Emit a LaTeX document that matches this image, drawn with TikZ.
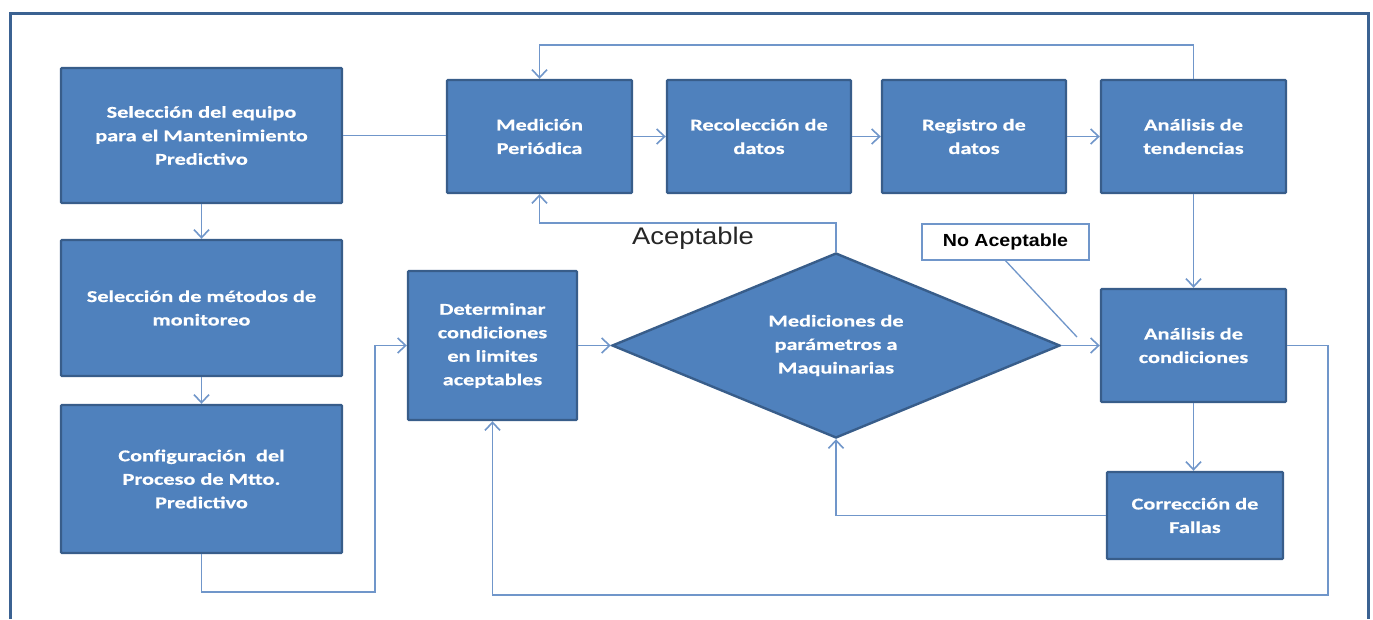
\documentclass[tikz,border=0pt]{standalone}
\usepackage{fontspec}
\usetikzlibrary{arrows.meta,shapes.geometric}
\newfontfamily\boxfont[FakeStretch=1.35,FakeBold=0.6]{Carlito}
\newfontfamily\arialfont[FakeStretch=1.14]{Liberation Sans}
\newfontfamily\arialbfont[FakeStretch=1.12]{Liberation Sans}
\definecolor{boxfill}{HTML}{4F81BD}
\definecolor{boxborder}{HTML}{385D8A}
\definecolor{conn}{HTML}{7096CA}
\definecolor{frame}{HTML}{3B6292}
\begin{document}
\begin{tikzpicture}[x=1pt,y=-1pt,
  box/.style={rectangle, draw=boxborder, fill=boxfill, line width=2.4pt, rounded corners=1pt,
    text=white, align=center, inner sep=0pt,
    font=\boxfont\bfseries\fontsize{16.5}{23.5}\selectfont},
  dia/.style={diamond, draw=boxborder, fill=boxfill, line width=2.4pt, aspect=2.4,
    text=white, align=center, inner sep=0pt,
    font=\boxfont\bfseries\fontsize{16.5}{23.5}\selectfont},
  conline/.style={draw=conn, line width=1.8pt},
  arr/.style={conline, -{Straight Barb[length=8pt,width=15pt,line width=1.6pt]}},
  labelbox/.style={rectangle, draw=conn, fill=white, line width=1.3pt, inner sep=0pt,
    font=\arialbfont\bfseries\fontsize{17.5}{20}\selectfont, text=black}
]
\useasboundingbox (0,0) rectangle (1373,619);
\fill[white] (0,0) rectangle (1373,619);
% outer frame
\draw[frame, line width=3pt] (10,619) -- (10,13) -- (1368,13) -- (1368,619);

% nodes
\node[box, minimum width=281pt, minimum height=135pt] (b1) at (201.5,135.5)
  {Selección del equipo\\para el Mantenimiento\\Predictivo};
\node[box, minimum width=281pt, minimum height=136pt] (b2) at (201.5,308)
  {Selección de métodos de\\monitoreo};
\node[box, minimum width=281pt, minimum height=148pt] (b3) at (201.5,479)
  {Configuración \ del\\Proceso de Mtto.\\Predictivo};
\node[box, minimum width=185pt, minimum height=113pt] (med) at (539.5,136.5)
  {Medición\\Periódica};
\node[box, minimum width=184pt, minimum height=113pt] (rec) at (759,136.5)
  {Recolección de\\datos};
\node[box, minimum width=184pt, minimum height=113pt] (reg) at (974,136.5)
  {Registro de\\datos};
\node[box, minimum width=185pt, minimum height=113pt] (ten) at (1193.5,136.5)
  {Análisis de\\tendencias};
\node[box, minimum width=169pt, minimum height=149pt] (det) at (492.5,345.5)
  {Determinar\\condiciones\\en limites\\aceptables};
\node[dia, minimum width=448pt, minimum height=185pt] (dec) at (836,345.5)
  {Mediciones de\\parámetros a\\Maquinarias};
\node[box, minimum width=185pt, minimum height=113pt] (con) at (1193.5,345.5)
  {Análisis de\\condiciones};
\node[box, minimum width=176pt, minimum height=87pt] (cor) at (1195,515.5)
  {Corrección de\\Fallas};
\node[labelbox, minimum width=167pt, minimum height=36pt] (noacc) at (1005.5,242)
  {No Aceptable};
\node[font=\arialfont\fontsize{24}{28}\selectfont, text=black!85] (acc) at (693,238) {Aceptable};

% helper coordinates
\coordinate (ytop) at (0,45);
\coordinate (yacc) at (0,223);
\coordinate (ybotA) at (0,592);
\coordinate (xjog) at (375,0);
\coordinate (ybotB) at (0,595);
\coordinate (xright) at (1328,0);
\coordinate (callend) at (1077,337);

% connectors
\draw[conline] (b1.east) -- (b1.east -| med.west);
\draw[arr] (med.east) -- (rec.west);
\draw[arr] (rec.east) -- (reg.west);
\draw[arr] (reg.east) -- (ten.west);
\draw[arr] (ten.north) -- (ten.north |- ytop) -| (med.north);
\draw[arr] (dec.north) -- (dec.north |- yacc) -| (med.south);
\draw[arr] (b1.south) -- (b2.north);
\draw[arr] (b2.south) -- (b3.north);
\draw[arr] (b3.south) -- (b3.south |- ybotA) -| (xjog |- det.west) -- (det.west);
\draw[arr] (det.east) -- (dec.west);
\draw[arr] (dec.east) -- (con.west);
\draw[conline, line width=1.3pt] (noacc.south) -- (callend);
\draw[arr] (ten.south) -- (con.north);
\draw[arr] (con.south) -- (con.south |- cor.north);
\draw[arr] (cor.west) -| (dec.south);
\draw[arr] (con.east) -- (con.east -| xright) -- (xright |- ybotB) -| (det.south);
\end{tikzpicture}
\end{document}
